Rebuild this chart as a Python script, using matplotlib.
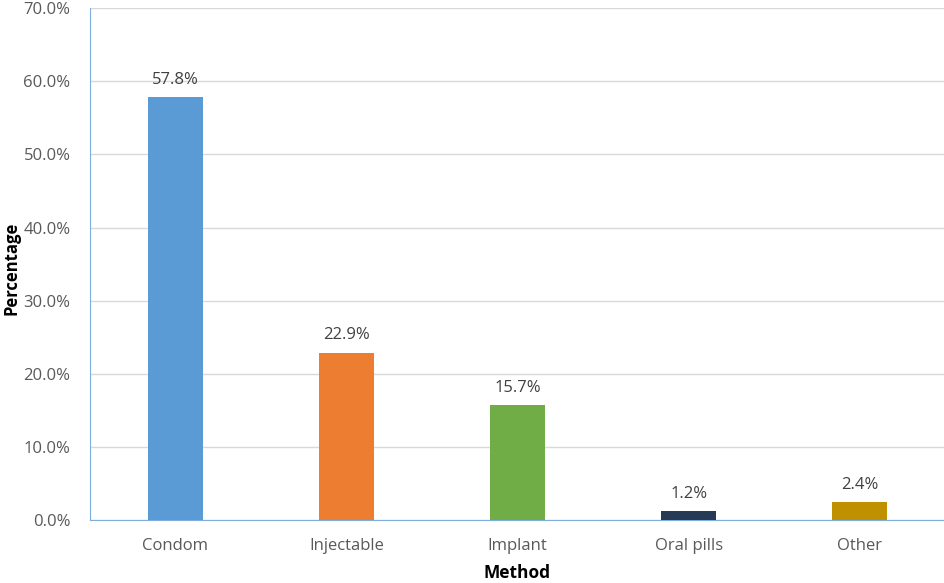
import matplotlib.pyplot as plt
from matplotlib.ticker import FuncFormatter

# Datos del gráfico
metodos = ['Condom', 'Injectable', 'Implant', 'Oral pills', 'Other']
porcentajes = [57.8, 22.9, 15.7, 1.2, 2.4]
colores = ['#5B9BD5', '#ED7D31', '#70AD47', '#263A55', '#BF9000']

plt.rcParams['font.family'] = ['Open Sans', 'DejaVu Sans']

fig = plt.figure(figsize=(9.45, 5.83), dpi=100)
ax = fig.add_axes([0.0952, 0.108, 0.905, 0.878])

x = range(len(metodos))
barras = ax.bar(x, porcentajes, width=0.32, color=colores, zorder=3)

for b, v in zip(barras, porcentajes):
    ax.text(b.get_x() + b.get_width() / 2, v + 1.3, f'{v:.1f}%',
            ha='center', va='bottom', fontsize=12, color='#404040')

ax.set_xlim(-0.5, 4.5)
ax.set_ylim(0, 70)
ax.set_yticks(range(0, 71, 10))
ax.yaxis.set_major_formatter(FuncFormatter(lambda v, p: f'{v:.1f}%'))
ax.set_xticks(list(x))
ax.set_xticklabels(metodos)
ax.tick_params(axis='both', length=0, labelsize=12, colors='#595959')
ax.tick_params(axis='x', pad=13)
ax.tick_params(axis='y', pad=14)
ax.grid(axis='y', color='#D9D9D9', linewidth=1, zorder=0)

for lado in ['top', 'right']:
    ax.spines[lado].set_visible(False)
ax.spines['left'].set_color('#7FAEDC')
ax.spines['bottom'].set_color('#7FAEDC')

# Títulos de los ejes colocados a mano en la figura
fig.text(517 / 945, 1 - 573 / 583, 'Method', ha='center', va='center',
         fontsize=12.5, fontweight='bold')
fig.text(12 / 945, 1 - 268 / 583, 'Percentage', ha='center', va='center',
         rotation=90, fontsize=12, fontweight='bold')

plt.savefig('out.png', dpi=100)
